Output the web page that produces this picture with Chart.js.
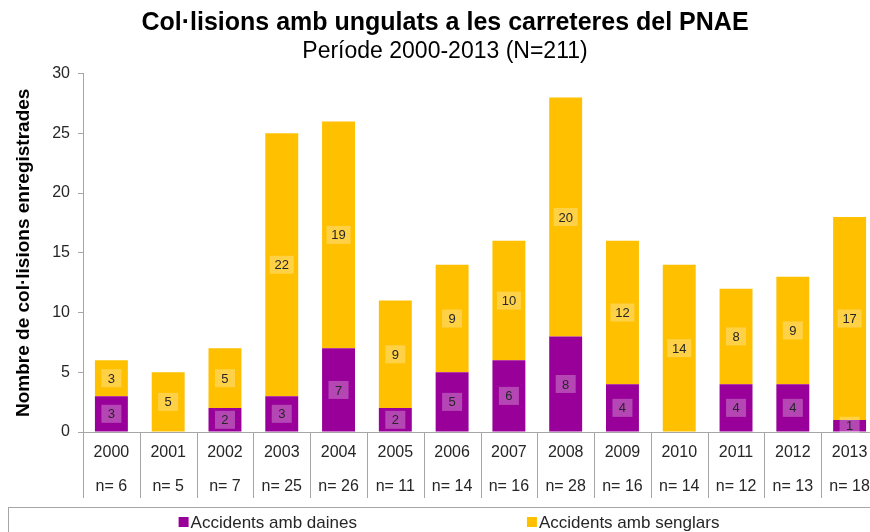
<!DOCTYPE html>
<html><head><meta charset="utf-8">
<script src="https://cdn.jsdelivr.net/npm/chart.js@4/dist/chart.umd.min.js"></script>
<style>
html,body{margin:0;padding:0;background:#fff;overflow:hidden;}
#wrap{width:880px;height:532px;position:relative;}
</style></head>
<body>
<div id="wrap"><canvas id="c" width="880" height="532"></canvas></div>
<script>
const years = ['2000','2001','2002','2003','2004','2005','2006','2007','2008','2009','2010','2011','2012','2013'];
const daines = [3,0,2,3,7,2,5,6,8,4,0,4,4,1];
const senglars = [3,5,5,22,19,9,9,10,20,12,14,8,9,17];
const totals = [6,5,7,25,26,11,14,16,28,16,14,12,13,18];
const yTicks = [0,5,10,15,20,25,30];

const FONT = '"Liberation Sans", Arial, sans-serif';

const labelBoxes = {
  id: 'labelBoxes',
  afterDatasetsDraw(chart) {
    const ctx = chart.ctx;
    ctx.save();
    ctx.font = '13px ' + FONT;
    ctx.textAlign = 'center';
    ctx.textBaseline = 'middle';
    chart.data.datasets.forEach((ds, di) => {
      const meta = chart.getDatasetMeta(di);
      meta.data.forEach((el, i) => {
        const v = ds.data[i];
        if (!v) return;
        const cx = el.x;
        const cy = (el.y + el.base) / 2;
        const txt = String(v);
        const w = txt.length > 1 ? 24 : 20;
        const h = 18;
        ctx.fillStyle = 'rgba(255,255,255,0.28)';
        ctx.fillRect(cx - w/2, cy - h/2, w, h);
        ctx.fillStyle = '#262626';
        ctx.fillText(txt, cx, cy + 1);
      });
    });
    ctx.restore();
  }
};

const tableLines = {
  id: 'tableLines',
  afterDraw(chart) {
    const sx = chart.scales.x;
    const ctx = chart.ctx;
    const n = chart.data.labels.length;
    const half = (sx.getPixelForValue(1) - sx.getPixelForValue(0)) / 2;
    ctx.save();
    ctx.strokeStyle = '#a6a6a6';
    ctx.lineWidth = 1;
    ctx.beginPath();
    for (let i = 0; i <= n; i++) {
      const x = Math.round(sx.getPixelForValue(0) - half + i * 2 * half) + 0.5;
      ctx.moveTo(x, sx.top);
      ctx.lineTo(x, sx.top + 66);
    }
    ctx.stroke();
    ctx.restore();
  }
};

const boxLegend = {
  id: 'boxLegend',
  afterDraw(chart) {
    const ctx = chart.ctx;
    ctx.save();
    ctx.strokeStyle = '#a6a6a6';
    ctx.lineWidth = 1;
    ctx.strokeRect(8.5, 507.5, 900, 60);
    ctx.font = '17px ' + FONT;
    ctx.textBaseline = 'middle';
    ctx.textAlign = 'left';
    const items = chart.data.datasets.map(d => ({text: d.label, color: d.backgroundColor}));
    const gap = 170;
    const widths = items.map(it => 12 + ctx.measureText(it.text).width);
    const total = widths.reduce((a,b)=>a+b,0) + gap*(items.length-1);
    let x = 449 - total/2;
    const y = 522;
    items.forEach((it, k) => {
      ctx.fillStyle = it.color;
      ctx.fillRect(x, y - 5, 10, 10);
      ctx.fillStyle = '#262626';
      ctx.fillText(it.text, x + 12, y + 1);
      x += widths[k] + gap;
    });
    ctx.restore();
  }
};

new Chart(document.getElementById('c'), {
  type: 'bar',
  data: {
    labels: years.map((y, i) => [y, 'n= ' + totals[i]]),
    datasets: [
      {label: 'Accidents amb daines', data: daines, backgroundColor: '#990099', borderWidth: 0},
      {label: 'Accidents amb senglars', data: senglars, backgroundColor: '#FFC000', borderWidth: 0}
    ]
  },
  options: {
    responsive: false,
    animation: false,
    devicePixelRatio: 1,
    layout: {padding: {left: 12, right: 2, bottom: 32, top: 0}},
    datasets: {bar: {categoryPercentage: 1, barPercentage: 0.58}},
    plugins: {
      legend: {display: false},
      tooltip: {enabled: false},
      title: {
        display: true,
        text: 'Col·lisions amb ungulats a les carreteres del PNAE',
        color: '#000',
        font: {family: FONT, size: 25, weight: 'bold'},
        padding: {top: 8, bottom: 0}
      },
      subtitle: {
        display: true,
        text: 'Període 2000-2013 (N=211)',
        color: '#000',
        font: {family: FONT, size: 23, weight: 'normal'},
        padding: {top: 0, bottom: 8}
      }
    },
    scales: {
      x: {
        stacked: true,
        border: {display: true, color: '#a6a6a6'},
        grid: {display: false},
        ticks: {
          autoSkip: false, maxRotation: 0, minRotation: 0,
          padding: -4,
          color: '#262626',
          font: {family: FONT, size: 16, lineHeight: 2.125}
        }
      },
      y: {
        stacked: true,
        min: 0, max: 30,
        afterFit(scale) { scale.width = 71; },
        afterBuildTicks(scale) { scale.ticks = yTicks.map(v => ({value: v})); },
        border: {display: true, color: '#a6a6a6'},
        grid: {display: true, drawOnChartArea: false, tickLength: 5, color: '#a6a6a6'},
        ticks: {color: '#262626', padding: 8, font: {family: FONT, size: 16}},
        title: {
          display: true,
          text: 'Nombre de col·lisions enregistrades',
          color: '#000',
          font: {family: FONT, size: 19, weight: 'bold'},
          padding: {top: 0, bottom: 0}
        }
      }
    }
  },
  plugins: [labelBoxes, tableLines, boxLegend]
});
</script>
</body></html>
